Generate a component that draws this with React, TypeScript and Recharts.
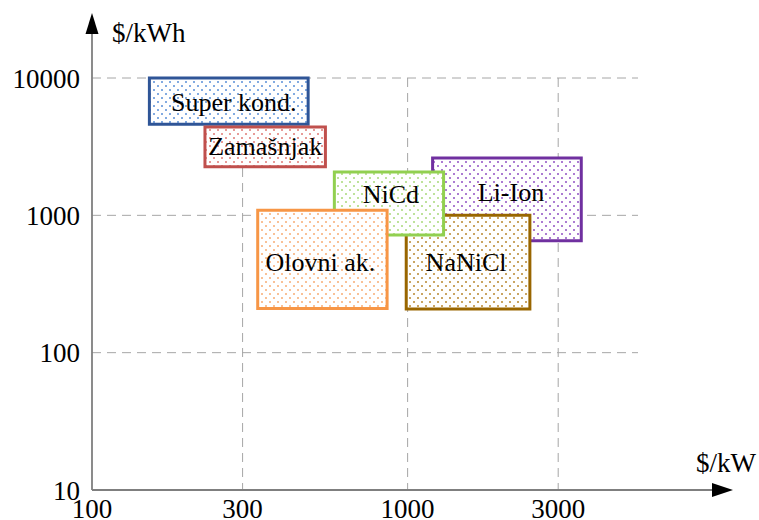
import { ScatterChart, XAxis, YAxis, CartesianGrid, ReferenceArea } from 'recharts';

// cost of storage: power cost ($/kW) vs energy cost ($/kWh), log-log
const storageNames = ['Li-Ion', 'NaNiCl', 'NiCd', 'Olovni ak.', 'Super kond.', 'Zamašnjak'];
const powerCostMin = [1200, 990, 586, 335, 152, 228];
const powerCostMax = [3550, 2440, 1300, 861, 484, 549];
const energyCostMin = [654, 208, 719, 210, 4600, 2260];
const energyCostMax = [2616, 1000, 2068, 1088, 10000, 4395];

const xTicks = [100, 300, 1000, 3000];
const yTicks = [10, 100, 1000, 10000];

// border / dot colours per storage type
const borderColors = ['#7030A0', '#996600', '#92D050', '#F79646', '#2F5597', '#C0504D'];
const dotColors = ['#9150C4', '#B8872E', '#A8D97A', '#F8AC74', '#5A8FD8', '#DF7A76'];
// small nudges of the box captions (px)
const labelDx = [4, -2, 2, -2, 5, 0];
const labelDy = [-7, 0, -9, 3, 1, 0];

const FONT = '"Liberation Serif", "DejaVu Serif", serif';
const W = 759;
const H = 520;
const M = { top: 78, right: 121, bottom: 0, left: 0 };
const Y_AXIS_W = 92;
const X_AXIS_H = 30;

// axis lines with arrow heads and axis titles
function AxisArrows() {
  const x0 = M.left + Y_AXIS_W;
  const y0 = H - M.bottom - X_AXIS_H;
  const axisColor = '#7F7F7F';
  return (
    <g>
      <line x1={x0} y1={y0} x2={x0} y2={32} stroke={axisColor} strokeWidth={1.8} />
      <polygon points={`${x0},13 ${x0 - 6.5},34 ${x0 + 6.5},34`} fill="#000" />
      <line x1={x0} y1={y0} x2={714} y2={y0} stroke={axisColor} strokeWidth={1.8} />
      <polygon points={`733,${y0} 712,${y0 - 7} 712,${y0 + 7}`} fill="#000" />
      <text x={112} y={42} fontSize={27} fontFamily={FONT} fill="#000">
        $/kWh
      </text>
      <text x={696} y={472} fontSize={27} fontFamily={FONT} fill="#000">
        $/kW
      </text>
    </g>
  );
}

const boxLabel = (name: string, i: number) => (props: any) => {
  const vb = props.viewBox || {};
  const cx = vb.x + vb.width / 2 + labelDx[i];
  const cy = vb.y + vb.height / 2 + labelDy[i];
  return (
    <text
      x={cx}
      y={cy}
      textAnchor="middle"
      dominantBaseline="central"
      fontSize={26}
      fontFamily={FONT}
      fill="#000"
    >
      {name}
    </text>
  );
};

export default function App() {
  return (
    <div style={{ position: 'fixed', left: 0, top: 0, background: '#fff', fontFamily: FONT }}>
      <ScatterChart width={W} height={H} margin={M}>
        <defs>
          {dotColors.map((c, i) => (
            <pattern key={i} id={`dots-${i}`} width={8} height={8} patternUnits="userSpaceOnUse">
              <rect width={8} height={8} fill="#fff" />
              <circle cx={2} cy={2} r={1} fill={c} />
              <circle cx={6} cy={6} r={1} fill={c} />
            </pattern>
          ))}
        </defs>
        <CartesianGrid
          stroke="#A6A6A6"
          strokeDasharray="9 6"
          verticalValues={xTicks.slice(1)}
          horizontalValues={yTicks.slice(1)}
        />
        <XAxis
          type="number"
          dataKey="x"
          scale="log"
          domain={[100, 5370]}
          ticks={xTicks}
          interval={0}
          allowDataOverflow
          axisLine={false}
          tickLine={false}
          tickSize={0}
          tickMargin={9}
          height={X_AXIS_H}
          tick={{ fontSize: 27, fill: '#000', fontFamily: FONT }}
        />
        <YAxis
          type="number"
          dataKey="y"
          scale="log"
          domain={[10, 10000]}
          ticks={yTicks}
          interval={0}
          allowDataOverflow
          axisLine={false}
          tickLine={false}
          tickSize={0}
          tickMargin={12}
          width={Y_AXIS_W}
          tick={{ fontSize: 27, fill: '#000', fontFamily: FONT }}
        />
        {storageNames.map((name, i) => (
          <ReferenceArea
            key={name}
            x1={powerCostMin[i]}
            x2={powerCostMax[i]}
            y1={energyCostMin[i]}
            y2={energyCostMax[i]}
            fill={`url(#dots-${i})`}
            fillOpacity={1}
            stroke={borderColors[i]}
            strokeWidth={3}
            label={boxLabel(name, i)}
          />
        ))}
        <AxisArrows />
      </ScatterChart>
    </div>
  );
}
